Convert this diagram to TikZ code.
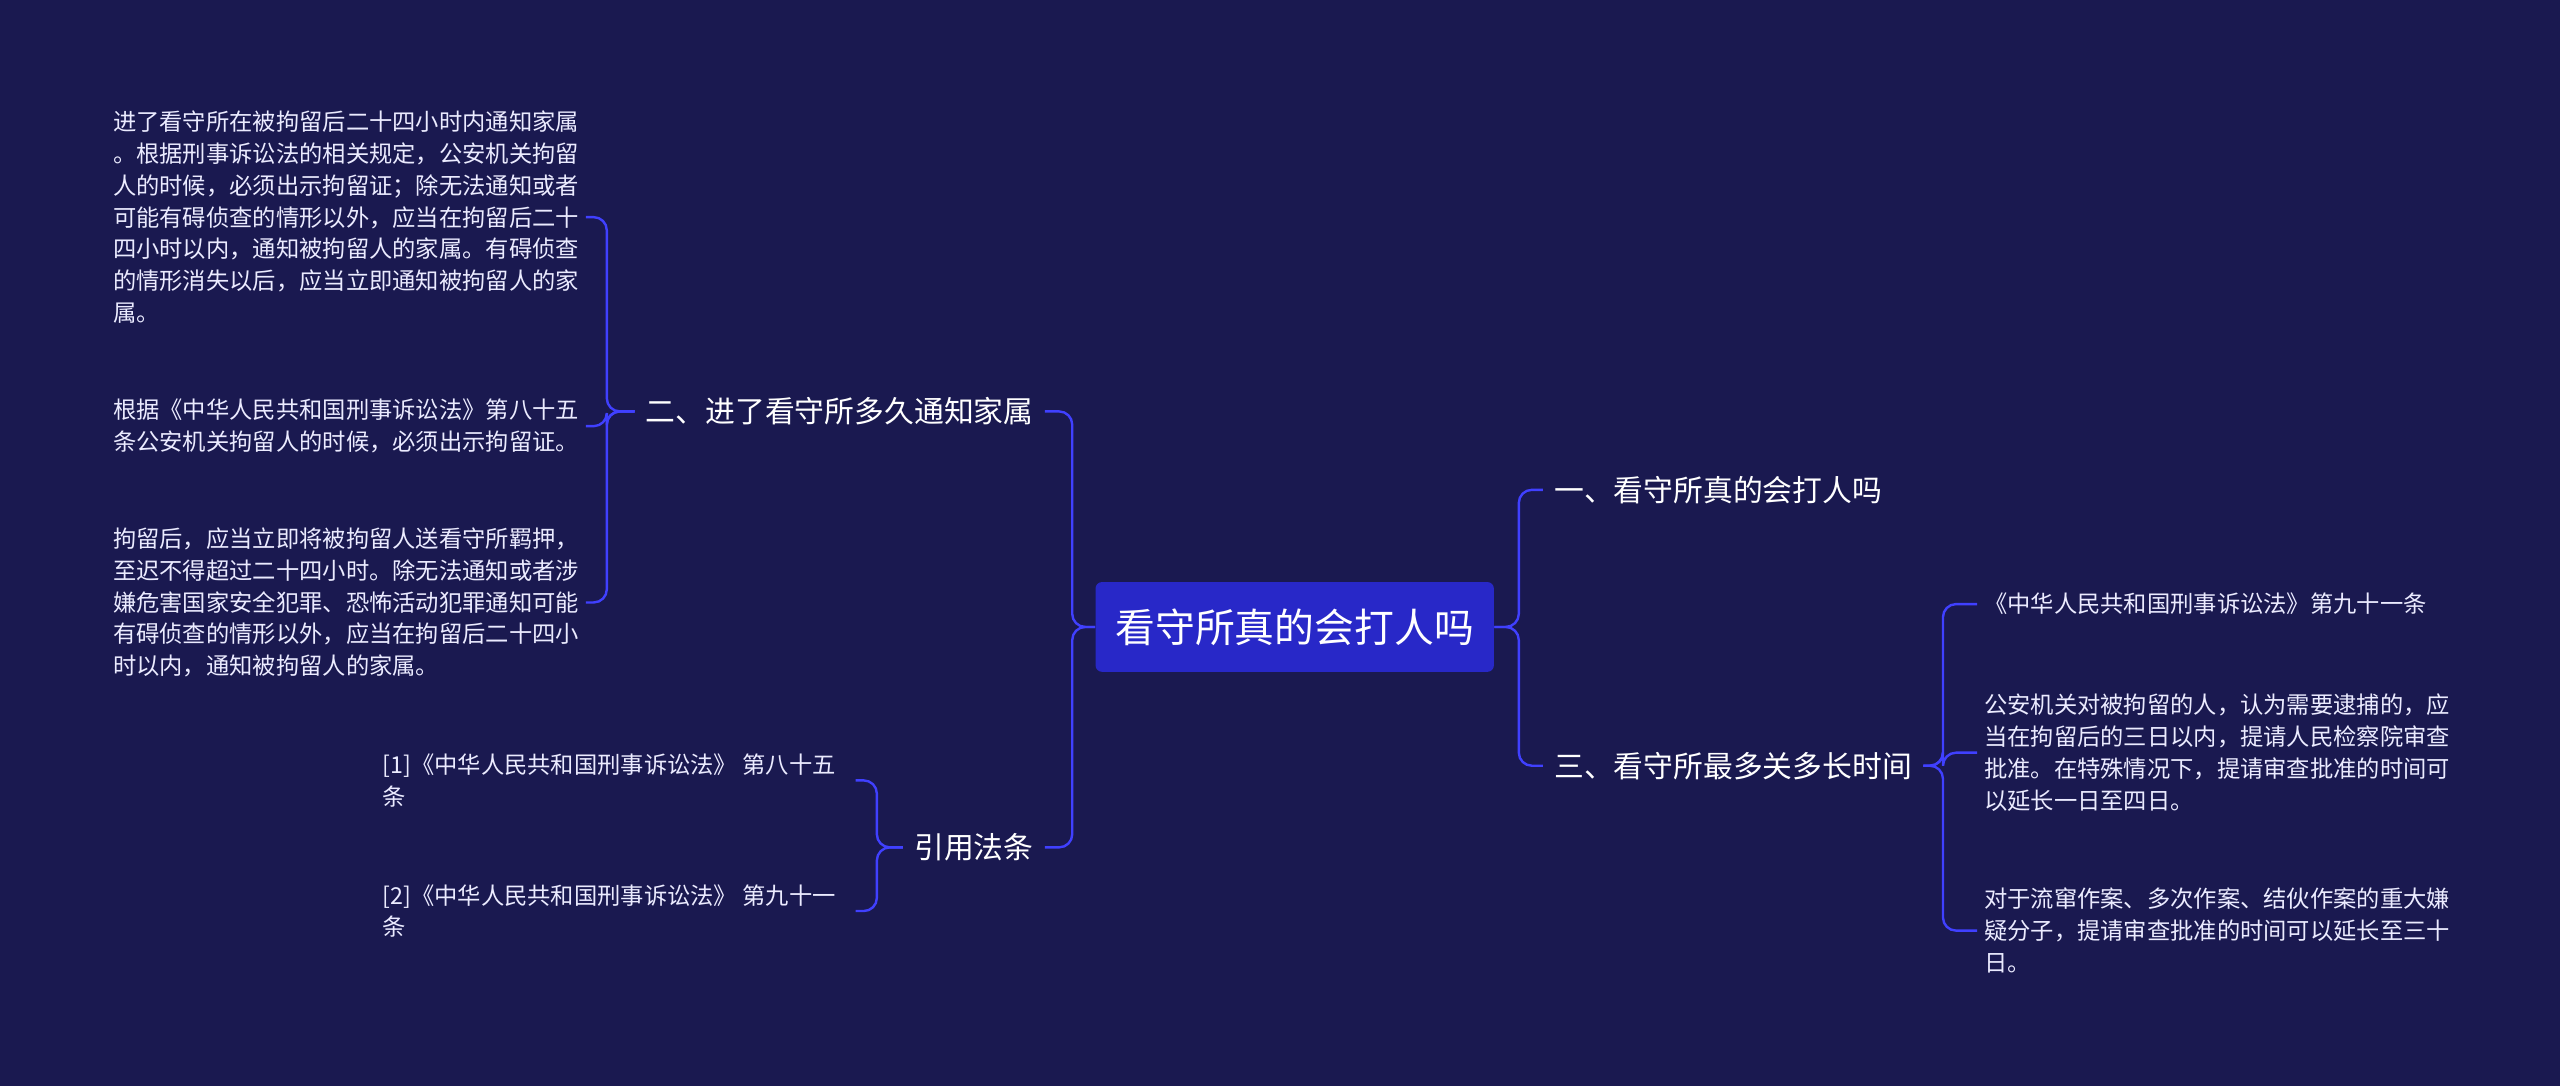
\documentclass[tikz,border=0pt]{standalone}
\usepackage{fontspec}
\setmainfont{Noto Sans CJK SC}
\begin{document}
\begin{tikzpicture}[x=0.75pt,y=-0.75pt,
  txt/.style={text=white!92!blue,font=\fontsize{10.7}{14.6}\selectfont,align=left,inner sep=3pt},
  br/.style={text=white,font=\fontsize{13.7}{16}\selectfont,inner sep=5pt},
  ln/.style={draw=blue!75!white,line width=1.1pt,rounded corners=6pt}]
\fill[fill={rgb,255:red,26;green,25;blue,80}] (0,0) rectangle (1568,665);
\useasboundingbox (0,0) rectangle (1568,665);
\node[fill={rgb,255:red,40;green,40;blue,200},rounded corners=3pt,minimum width=244*0.75pt,minimum height=55*0.75pt,text=white,font=\fontsize{18.3}{20}\selectfont] (root) at (793,384) {看守所真的会打人吗};
\node[br,anchor=west] (b1) at (945,300) {一、看守所真的会打人吗};
\node[br,anchor=west] (b3) at (945,469) {三、看守所最多关多长时间};
\node[br,anchor=east] (b2) at (640,252) {二、进了看守所多久通知家属};
\node[br,anchor=east] (b4) at (640,519) {引用法条};
\node[txt,anchor=west] (r1) at (1211,370) {《中华人民共和国刑事诉讼法》第九十一条};
\node[txt,anchor=west] (r2) at (1211,461) {公安机关对被拘留的人，认为需要逮捕的，应\\当在拘留后的三日以内，提请人民检察院审查\\批准。在特殊情况下，提请审查批准的时间可\\以延长一日至四日。};
\node[txt,anchor=west] (r3) at (1211,570) {对于流窜作案、多次作案、结伙作案的重大嫌\\疑分子，提请审查批准的时间可以延长至三十\\日。};
\node[txt,anchor=west] (p1) at (65,133) {进了看守所在被拘留后二十四小时内通知家属\\。根据刑事诉讼法的相关规定，公安机关拘留\\人的时候，必须出示拘留证；除无法通知或者\\可能有碍侦查的情形以外，应当在拘留后二十\\四小时以内，通知被拘留人的家属。有碍侦查\\的情形消失以后，应当立即通知被拘留人的家\\属。};
\node[txt,anchor=west] (p2) at (65,261) {根据《中华人民共和国刑事诉讼法》第八十五\\条公安机关拘留人的时候，必须出示拘留证。};
\node[txt,anchor=west] (p3) at (65,369) {拘留后，应当立即将被拘留人送看守所羁押，\\至迟不得超过二十四小时。除无法通知或者涉\\嫌危害国家安全犯罪、恐怖活动犯罪通知可能\\有碍侦查的情形以外，应当在拘留后二十四小\\时以内，通知被拘留人的家属。};
\node[txt,anchor=west] (q1) at (230,478) {[1]《中华人民共和国刑事诉讼法》 第八十五\\条};
\node[txt,anchor=west] (q2) at (230,558) {[2]《中华人民共和国刑事诉讼法》 第九十一\\条};
\foreach \c in {b1,b3} \draw[ln] (root.east) -- ++(15,0) |- (\c.west);
\foreach \c in {b2,b4} \draw[ln] (root.west) -- ++(-14,0) |- (\c.east);
\foreach \c in {r1,r2,r3} \draw[ln] (b3.east) -- ++(12,0) |- (\c.west);
\foreach \c in {p1,p2,p3} \draw[ln] (b2.west) -- ++(-17,0) |- (p1.east |- \c.center) coordinate (e);
\foreach \c in {q1,q2} \draw[ln] (b4.west) -- ++(-16,0) |- ([xshift=6pt]q1.east |- \c.center);
\end{tikzpicture}
\end{document}
